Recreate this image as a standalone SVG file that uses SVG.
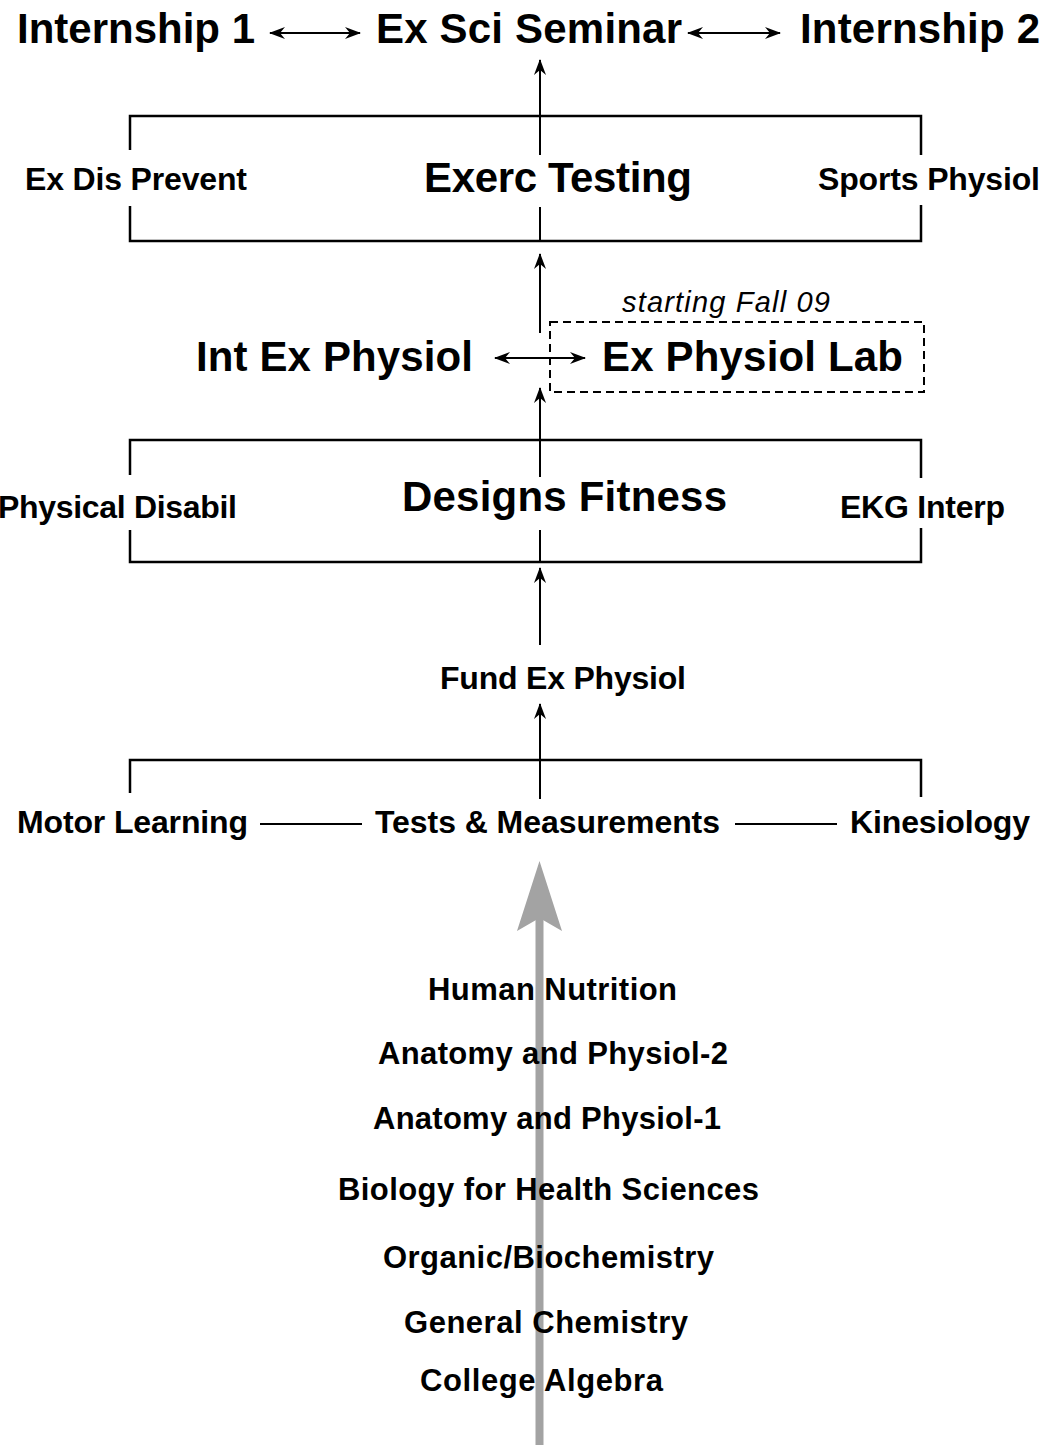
<svg xmlns="http://www.w3.org/2000/svg" width="1046" height="1445" viewBox="0 0 1046 1445">
  <style>
    text { font-family: "Liberation Sans", Arial, sans-serif; font-weight: bold; fill: #000; }
    .big { font-size: 42px; }
    .mid { font-size: 32px; }
    .base { font-size: 31px; }
    .note { font-size: 29px; font-weight: normal; font-style: italic; }
    .ln { stroke: #000; stroke-width: 2; fill: none; }
    .bar { stroke: #000; stroke-width: 2.5; fill: none; }
    .arr { stroke: #000; stroke-width: 2; fill: none; marker-end: url(#head); }
    .dbl { stroke: #000; stroke-width: 2; fill: none; marker-start: url(#headRev); marker-end: url(#head); }
  </style>
  <defs>
    <marker id="head" viewBox="0 0 16 12" refX="15" refY="6" markerWidth="16" markerHeight="12" markerUnits="userSpaceOnUse" orient="auto">
      <path d="M0,0 L16,6 L0,12 L5,6 z" fill="#000"/>
    </marker>
    <marker id="headRev" viewBox="0 0 16 12" refX="1" refY="6" markerWidth="16" markerHeight="12" markerUnits="userSpaceOnUse" orient="auto">
      <path d="M16,0 L0,6 L16,12 L11,6 z" fill="#000"/>
    </marker>
  </defs>

  <rect width="1046" height="1445" fill="#fff"/>

  <!-- prerequisite flow arrow (grey) -->
  <g id="prereq-arrow">
    <rect x="535.5" y="918" width="8" height="527" fill="#a3a3a3"/>
    <path d="M539.5,861 L562,931 L539.5,918 L517,931 z" fill="#a3a3a3"/>
  </g>

  <!-- connectors -->
  <g id="connectors">
    <path class="dbl" d="M270,33 H360"/>
    <path class="dbl" d="M688,33 H780"/>
    <path class="arr" d="M540,155 V60"/>
    <path class="ln" d="M540,207 V241"/>
    <path class="arr" d="M540,333 V254"/>
    <path class="dbl" d="M495,358 H585"/>
    <path class="arr" d="M540,477 V388"/>
    <path class="ln" d="M540,530 V562"/>
    <path class="arr" d="M540,645 V568"/>
    <path class="arr" d="M540,799 V704"/>
    <path class="ln" d="M260,824 H362"/>
    <path class="ln" d="M735,824 H837"/>
  </g>

  <!-- top row -->
  <g id="internship1"><text class="big" x="17" y="43" textLength="238">Internship 1</text></g>
  <g id="seminar"><text class="big" x="376" y="43" textLength="306">Ex Sci Seminar</text></g>
  <g id="internship2"><text class="big" x="800" y="43" textLength="240">Internship 2</text></g>

  <!-- exercise testing tier -->
  <g id="tier-testing">
    <path class="bar" d="M130,150 V116 H921 V155"/>
    <path class="bar" d="M130,206 V241 H921 V205"/>
  </g>
  <g id="ex-dis-prevent"><text class="mid" x="25" y="190" textLength="222">Ex Dis Prevent</text></g>
  <g id="exerc-testing"><text class="big" x="424" y="192" textLength="268">Exerc Testing</text></g>
  <g id="sports-physiol"><text class="mid" x="818" y="190" textLength="222">Sports Physiol</text></g>

  <!-- intermediate tier -->
  <g id="int-ex-physiol"><text class="big" x="196" y="371" textLength="277">Int Ex Physiol</text></g>
  <g id="ex-physiol-lab">
    <rect x="550" y="322" width="374" height="70" fill="none" stroke="#000" stroke-width="2" stroke-dasharray="8 5"/>
    <text class="big" x="602" y="371" textLength="301">Ex Physiol Lab</text>
    <text class="note" x="622" y="312" textLength="208">starting Fall 09</text>
  </g>

  <!-- fitness design tier -->
  <g id="tier-fitness">
    <path class="bar" d="M130,475 V440 H921 V478"/>
    <path class="bar" d="M130,530 V562 H921 V528"/>
  </g>
  <g id="physical-disabil"><text class="mid" x="-2" y="518" textLength="239">Physical Disabil</text></g>
  <g id="designs-fitness"><text class="big" x="402" y="511" textLength="325">Designs Fitness</text></g>
  <g id="ekg-interp"><text class="mid" x="840" y="518" textLength="165">EKG Interp</text></g>

  <g id="fund-ex-physiol"><text class="mid" x="440" y="689" textLength="246">Fund Ex Physiol</text></g>

  <!-- foundation tier -->
  <g id="tier-foundation">
    <path class="bar" d="M130,793 V760 H921 V797"/>
  </g>
  <g id="motor-learning"><text class="mid" x="17" y="833" textLength="231">Motor Learning</text></g>
  <g id="tests-measurements"><text class="mid" x="375" y="833" textLength="345">Tests &amp; Measurements</text></g>
  <g id="kinesiology"><text class="mid" x="850" y="833" textLength="180">Kinesiology</text></g>

  <!-- prerequisite courses -->
  <g id="human-nutrition"><text class="base" x="428" y="1000" textLength="249">Human Nutrition</text></g>
  <g id="anat-physiol-2"><text class="base" x="378" y="1064" textLength="350">Anatomy and Physiol-2</text></g>
  <g id="anat-physiol-1"><text class="base" x="373" y="1129" textLength="348">Anatomy and Physiol-1</text></g>
  <g id="biology"><text class="base" x="338" y="1200" textLength="421">Biology for Health Sciences</text></g>
  <g id="organic-biochem"><text class="base" x="383" y="1268" textLength="331">Organic/Biochemistry</text></g>
  <g id="general-chem"><text class="base" x="404" y="1333" textLength="284">General Chemistry</text></g>
  <g id="college-algebra"><text class="base" x="420" y="1391" textLength="243">College Algebra</text></g>
</svg>
